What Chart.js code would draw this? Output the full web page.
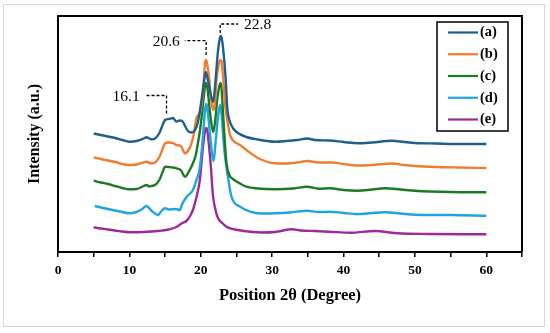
<!DOCTYPE html>
<html><head><meta charset="utf-8">
<script src="https://cdn.jsdelivr.net/npm/chart.js@4.4.1/dist/chart.umd.min.js"></script>
<style>html,body{margin:0;padding:0;background:#fff;}canvas{display:block}</style>
</head><body>
<canvas id="c" width="550" height="333"></canvas>
<script>
// ---- data (2θ in degrees, intensity in arbitrary units) ----
const seriesLabels = ['(a)', '(b)', '(c)', '(d)', '(e)'];
const xTickLabels = ['0', '10', '20', '30', '40', '50', '60'];

const aX = [5,6,7,8,9,10,11,12,12.4,12.8,13.1,13.6,14.2,14.6,15,15.5,16.1,16.6,17,17.4,17.8,18.2,18.7,19.2,19.6,20,20.4,20.7,21,21.4,21.75,22,22.4,22.65,22.8,22.95,23.14,23.5,23.7,24.1,24.5,25,26.4,28,30.4,32,33.5,34.9,36,38,40,42,44,46.8,48.5,50,53,56,60];
const aY = [118.5,117,115.5,114,112,110.3,111,113.5,114.7,113.5,112.7,113.5,119,126,132,133,134,130.3,131.5,131,126,121,119.5,122,130,147,167,180,172,157,150,166,200,213,216,213,203,172,145,130,124,120,115,112.5,110.3,111,112,113.5,112,111.5,110,108.7,109.5,111.3,110,109,108.5,108,108];

const bX = [5,6,7,8,9,10,11,12,12.4,12.8,13.1,13.6,14.2,14.6,15,15.5,16.1,16.6,17.2,17.8,18.2,18.7,19,19.4,19.8,20.1,20.3,20.5,20.62,20.75,20.9,21.2,21.5,21.75,22,22.2,22.5,22.65,22.8,22.95,23.14,23.4,23.6,24.1,24.6,25.5,26.4,28,30.4,32,33.5,34.9,36.5,38.5,40,42,44,46.8,48.5,50,53,56,60];
const bY = [94.7,93,91.5,90,88,87,87.5,89.5,90.3,89,88.7,89.5,95,102,108.7,109.5,109,107,106,98.7,101,108.7,117,134,138,146,160,180,190,192,188,172,150,142,150,172,187,191,192,189,174,148,137,117,111,107,102,94,88.7,88.5,89.5,91,89.5,89.5,88,86.5,87,88.5,87,86,85,84.5,84];

const cX = [5,6,7,8,9,10,11,12,12.4,12.8,13.1,13.6,14.2,14.6,15,15.5,16.1,16.6,17.2,17.8,18.3,18.9,19.3,19.6,19.9,20.2,20.45,20.62,20.75,20.95,21.2,21.5,21.75,22,22.3,22.55,22.7,22.82,23,23.14,23.4,23.6,24,24.5,25.5,26.4,28,30.4,33,34.9,36.5,38.1,40,42,44,45.8,48,50,55,60];
const cY = [71.3,69.5,68,66,64,62.7,63,66,67,65.5,66,67,72,79,85.3,85,84.5,83.7,82,75.3,80,88.7,97,108.7,122,140,157,167,169,163,146,128,120,130,152,164,168,169,154,137,107,89,77,73,68.5,65.3,63.5,62.7,63.5,65.3,63.3,63.7,62,61.3,62.5,63.7,62.5,61.3,60,59.7];

const dX = [5.15,6,7,8,9,10,11,11.8,12.4,13,13.5,14,14.5,15,15.5,16.5,17.07,17.4,18,18.9,19.4,19.87,20.3,20.6,20.75,20.9,21.1,21.3,21.8,22.1,22.4,22.62,22.75,22.9,23.3,23.8,24.3,25.5,26.9,28.5,30.4,32.5,34.9,36.5,38.1,40,42,44,45.8,48,50,55,60];
const dY = [46,44.5,43,41.5,40,38.7,40,43,46,42,39,37,41,43.7,42.5,43,42,48,55,62,72,84,115,142,148,145,132,117,91,112,134,145,147,138,102,75.3,55.3,45.3,40.3,38.5,38.7,39.5,41.3,40,40.3,39,38,39,39.7,38.5,37.3,37,36.3];

const eX = [5,6,7,8,9,10,12,14,15.5,16.6,17.4,18,18.5,18.9,19.4,19.87,20.2,20.5,20.68,20.8,20.95,21.1,21.4,21.7,22,22.4,23,23.6,24.5,26.9,28.5,30.4,32.8,34,36,38,41,44.4,47.6,52,60];
const eY = [24.7,23.5,22.5,21.5,20.5,19.7,20,21,22.5,25,29,31,36,42,55,72,97,117,123,124,120,110,87,57,44,34,29,25.3,23,20.3,19.5,20,22.7,21.5,21,20.3,19.3,21,18.7,18,17.7];

// peak annotations
const peakLabels = ['16.1', '20.6', '22.8'];
const peakX = [15.2, 20.75, 22.72];

const colors = ['#1f5f88', '#ee7d31', '#1d7a24', '#1ea5dc', '#9c2a9c'];
const allX = [aX, bX, cX, dX, eX];
const allY = [aY, bY, cY, dY, eY];

const FONT = "'Liberation Serif', 'Times New Roman', serif";

const datasets = seriesLabels.map((lab, i) => ({
  label: lab,
  data: allX[i].map((x, k) => ({x: x, y: allY[i][k]})),
  borderColor: colors[i],
  backgroundColor: colors[i],
  borderWidth: 2.4,
  pointRadius: 0,
  fill: false,
  cubicInterpolationMode: 'monotone'
}));

// annotation geometry (data units for tip/elbow, degrees for arm end)
const annot = [
  {tip: 138.5, elbow: 156.5, armTo: 12.15, side: 'left'},
  {tip: 197, elbow: 211.3, armTo: 17.76, side: 'left'},
  {tip: 219, elbow: 228, armTo: 25.23, side: 'right'}
];

const decor = {
  id: 'decor',
  beforeDraw(chart) {
    const ctx = chart.ctx;
    ctx.save();
    ctx.fillStyle = '#fff';
    ctx.fillRect(0, 0, chart.width, chart.height);
    ctx.strokeStyle = '#d6d6d6';
    ctx.lineWidth = 1;
    ctx.strokeRect(3.5, 4.5, 541, 322);
    ctx.restore();
  },
  afterDraw(chart) {
    const ctx = chart.ctx;
    const {left, right, top, bottom} = chart.chartArea;
    const xs = chart.scales.x, ys = chart.scales.y;
    ctx.save();
    // frame of plot area
    ctx.strokeStyle = '#000';
    ctx.lineWidth = 2;
    ctx.beginPath();
    ctx.moveTo(left, top); ctx.lineTo(right, top); ctx.lineTo(right, bottom);
    ctx.stroke();

    // peak annotations
    ctx.setLineDash([3, 2]);
    ctx.lineWidth = 1.3;
    ctx.font = '15.5px ' + FONT;
    ctx.fillStyle = '#000';
    ctx.textBaseline = 'middle';
    peakLabels.forEach((t, i) => {
      const a = annot[i];
      const px = xs.getPixelForValue(peakX[i]);
      const pt = ys.getPixelForValue(a.tip);
      const pe = ys.getPixelForValue(a.elbow);
      const pa = xs.getPixelForValue(a.armTo);
      ctx.beginPath();
      ctx.moveTo(px, pt); ctx.lineTo(px, pe); ctx.lineTo(pa, pe);
      ctx.stroke();
      if (a.side === 'left') { ctx.textAlign = 'right'; ctx.fillText(t, pa - 5, pe + 1); }
      else { ctx.textAlign = 'left'; ctx.fillText(t, pa + 6, pe + 1); }
    });
    ctx.setLineDash([]);

    // legend
    const lx = 437, ly = 22, lw = 71, lh = 109;
    ctx.fillStyle = '#fff';
    ctx.fillRect(lx, ly, lw, lh);
    ctx.strokeStyle = '#000';
    ctx.lineWidth = 1.5;
    ctx.strokeRect(lx, ly, lw, lh);
    ctx.font = 'bold 14.5px ' + FONT;
    ctx.textAlign = 'left';
    ctx.textBaseline = 'middle';
    chart.data.datasets.forEach((ds, i) => {
      const yy = ly + 10.5 + i * 21.75;
      ctx.strokeStyle = ds.borderColor;
      ctx.lineWidth = 2.2;
      ctx.beginPath(); ctx.moveTo(lx + 11, yy); ctx.lineTo(lx + 41, yy); ctx.stroke();
      ctx.fillStyle = '#000';
      ctx.fillText(ds.label, lx + 43, yy);
    });
    ctx.restore();
  }
};

new Chart(document.getElementById('c'), {
  type: 'line',
  data: {datasets},
  plugins: [decor],
  options: {
    responsive: false,
    animation: false,
    layout: {padding: {left: 0, right: 28, top: 16, bottom: 0}},
    plugins: {legend: {display: false}, tooltip: {enabled: false}},
    scales: {
      x: {
        type: 'linear', min: 0, max: 65,
        afterFit: s => { s.height = 81; },
        ticks: {
          stepSize: 5, autoSkip: false, maxRotation: 0, padding: 5, color: '#000',
          font: {family: FONT, size: 13.5, weight: 'bold'},
          callback: v => { const s = String(v); return xTickLabels.includes(s) ? s : ''; }
        },
        grid: {drawOnChartArea: false, drawTicks: true, tickLength: 5, color: '#000', lineWidth: 1.5},
        border: {display: true, color: '#000', width: 2},
        title: {display: true, text: 'Position 2θ (Degree)', color: '#000',
          font: {family: FONT, size: 16.5, weight: 'bold'}, padding: {top: 0, bottom: 27}}
      },
      y: {
        min: 0, max: 236,
        afterFit: s => { s.width = 58; },
        ticks: {display: false},
        grid: {display: false},
        border: {display: true, color: '#000', width: 2},
        title: {display: true, text: 'Intensity (a.u.)', color: '#000',
          font: {family: FONT, size: 16, weight: 'bold'}, padding: {top: 25, bottom: 0}}
      }
    }
  }
});
</script>
</body></html>
